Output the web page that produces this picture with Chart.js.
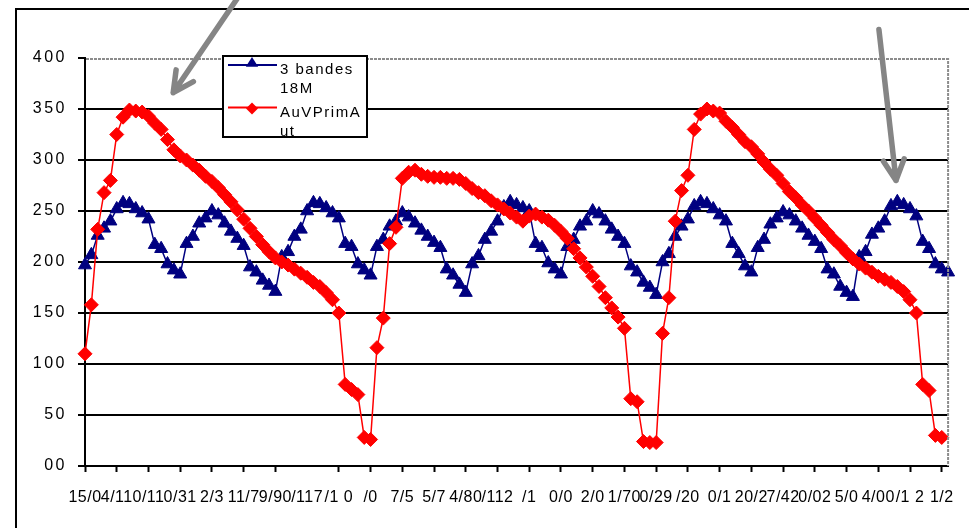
<!DOCTYPE html>
<html>
<head>
<meta charset="utf-8">
<script src="https://cdn.jsdelivr.net/npm/chart.js@4.4.1/dist/chart.umd.min.js"></script>
<style>
html,body{margin:0;padding:0;background:#fff;}
canvas{display:block;}
</style>
</head>
<body>
<canvas id="c" width="969" height="528"></canvas>
<script>
// ---- tick labels (as they appear, overlapping date labels) ----
const xTickLabels = ["15/0","4/11","0/11","0/31","2/3","11/7","9/90","/117","/1 0","/0","7/5","5/7","4/80","/112","/1","0/0","2/0","1/70","0/29","/20","0/1","20/2","7/42","0/02","5/0","4/00","/1 2","1/2"];
const yTickLabels = ["00","50","100","150","200","250","300","350","400"];

// ---- series names ----
const seriesNames = ["3 bandes\n18M", "AuVPrimA\nut"];

// ---- series values (one value per category) ----
const bandes18M = [
197,207,226,233,240,252,258,257,252,248,
242,217,213,198,192,188,218,225,238,243,
250,246,238,230,223,216,195,190,182,177,
171,205,210,225,232,250,258,257,253,248,
243,218,215,198,192,187,215,222,235,240,
248,244,238,231,225,219,214,193,187,178,
170,198,206,222,230,240,254,259,256,253,
250,218,214,199,193,188,215,222,235,240,
250,247,240,232,225,218,196,190,180,175,
168,200,208,225,235,242,255,259,257,252,
246,240,218,208,196,190,214,222,237,243,
249,246,240,233,226,220,213,193,188,176,
170,166,205,210,227,233,240,255,259,256,
252,245,220,213,198,193,190
];
const autPrinAut = [
110,158,232,268,280,325,342,349,348,347,
343,336,330,320,310,304,300,295,290,284,
279,273,266,259,251,242,233,225,217,210,
204,200,197,193,189,185,180,176,170,163,
150,80,75,70,28,26,116,145,218,234,
282,288,290,286,284,283,283,282,282,281,
277,272,268,265,260,256,252,248,244,240,
245,247,244,241,236,230,223,213,204,195,
186,176,165,155,146,135,66,63,24,23,
23,130,165,240,270,285,330,345,350,348,
346,338,332,325,318,313,306,298,291,285,
277,269,263,256,250,243,236,229,222,216,
209,203,198,194,190,186,183,180,176,171,
163,150,80,74,30,28
];

// ---- annotation arrows, in data units [category index, value] ----
const arrowTails = [[24.5, 463], [125.1, 428]];
const arrowTips  = [[13.9, 366], [127.8, 280]];

const FONT = '"Liberation Sans", Arial, sans-serif';

const spacingPlugin = {
  id: 'spacing',
  afterUpdate(chart) {
    const sp = {x: '0.5px', y: '2.5px'};
    for (const id of ['x', 'y']) {
      const s = chart.scales[id];
      if (s && !s.__wrapped) {
        const orig = s.drawLabels;
        s.drawLabels = function (area) {
          const ctx = this.ctx;
          ctx.save();
          ctx.letterSpacing = sp[id];
          orig.call(this, area);
          ctx.restore();
        };
        s.__wrapped = true;
      }
    }
  }
};

const framePlugin = {
  id: 'frame',
  beforeDraw(chart) {
    const ctx = chart.ctx;
    ctx.save();
    ctx.fillStyle = '#fff';
    ctx.fillRect(0, 0, chart.width, chart.height);
    ctx.fillStyle = '#000';
    ctx.fillRect(15, 8, chart.width, 2);
    ctx.fillRect(15, 8, 2, chart.height);
    ctx.restore();
  },
  afterDraw(chart) {
    const ctx = chart.ctx;
    const a = chart.chartArea;
    ctx.save();
    // plot area border (grey dotted) top and right
    ctx.strokeStyle = '#8c8c8c';
    ctx.lineWidth = 2;
    ctx.setLineDash([3, 1]);
    ctx.beginPath();
    ctx.moveTo(a.left + 1, a.top + 1);
    ctx.lineTo(a.right, a.top + 1);
    ctx.lineTo(a.right, a.bottom);
    ctx.stroke();
    ctx.setLineDash([]);

    // legend
    const lg = {x: 223, y: 56, w: 144, h: 81};
    ctx.fillStyle = '#fff';
    ctx.fillRect(lg.x, lg.y, lg.w, lg.h);
    ctx.strokeStyle = '#000';
    ctx.lineWidth = 2;
    ctx.strokeRect(lg.x, lg.y, lg.w, lg.h);
    const rows = [
      {ds: chart.data.datasets[1], lineY: 65, markY: 63.5, rad: 6.5, textY: [73.5, 93]},
      {ds: chart.data.datasets[0], lineY: 107.5, markY: 108.5, rad: 6, textY: [116.5, 135.5]}
    ];
    for (const r of rows) {
      const col = r.ds.borderColor;
      ctx.strokeStyle = col;
      ctx.lineWidth = 2;
      ctx.beginPath();
      ctx.moveTo(228, r.lineY);
      ctx.lineTo(277, r.lineY);
      ctx.stroke();
      ctx.fillStyle = col;
      const cx = 252, cy = r.markY, rad = r.rad;
      ctx.beginPath();
      if (r.ds.pointStyle === 'triangle') {
        ctx.moveTo(cx, cy - rad);
        ctx.lineTo(cx + 0.95 * rad, cy + 0.5 * rad);
        ctx.lineTo(cx - 0.95 * rad, cy + 0.5 * rad);
      } else {
        ctx.moveTo(cx - rad, cy);
        ctx.lineTo(cx, cy - rad);
        ctx.lineTo(cx + rad, cy);
        ctx.lineTo(cx, cy + rad);
      }
      ctx.closePath();
      ctx.fill();
      ctx.fillStyle = '#000';
      ctx.font = '15px ' + FONT;
      ctx.letterSpacing = '1.5px';
      ctx.textBaseline = 'alphabetic';
      ctx.textAlign = 'left';
      const lines = r.ds.label.split('\n');
      lines.forEach((t, i) => ctx.fillText(t, 280, r.textY[i]));
      ctx.letterSpacing = '0px';
    }

    // grey arrows
    const xs = chart.scales.x, ys = chart.scales.y;
    ctx.strokeStyle = '#858585';
    ctx.lineWidth = 5.5;
    ctx.lineCap = 'round';
    ctx.lineJoin = 'round';
    for (let i = 0; i < arrowTails.length; i++) {
      const x1 = xs.getPixelForValue(arrowTails[i][0]), y1 = ys.getPixelForValue(arrowTails[i][1]);
      const x2 = xs.getPixelForValue(arrowTips[i][0]), y2 = ys.getPixelForValue(arrowTips[i][1]);
      ctx.beginPath();
      ctx.moveTo(x1, y1);
      ctx.lineTo(x2, y2);
      const back = Math.atan2(y1 - y2, x1 - x2);
      for (const s of [-1, 1]) {
        const ang = back + s * 27 * Math.PI / 180;
        ctx.moveTo(x2, y2);
        ctx.lineTo(x2 + 23 * Math.cos(ang), y2 + 23 * Math.sin(ang));
      }
      ctx.stroke();
    }
    ctx.restore();
  }
};

new Chart(document.getElementById('c'), {
  type: 'line',
  data: {
    datasets: [
      {
        label: seriesNames[1],
        data: autPrinAut.map((v, i) => ({x: i, y: v})),
        borderColor: '#FF0000',
        backgroundColor: '#FF0000',
        pointBackgroundColor: '#FF0000',
        pointBorderColor: '#FF0000',
        pointStyle: 'rectRot',
        pointRadius: 7,
        pointBorderWidth: 1,
        borderWidth: 1.5,
        tension: 0,
        order: 0,
        clip: false
      },
      {
        label: seriesNames[0],
        data: bandes18M.map((v, i) => ({x: i, y: v})),
        borderColor: '#000080',
        backgroundColor: '#000080',
        pointBackgroundColor: '#000080',
        pointBorderColor: '#000080',
        pointStyle: 'triangle',
        pointRadius: 7.5,
        pointBorderWidth: 1,
        borderWidth: 1.5,
        tension: 0,
        order: 1,
        clip: false
      }
    ]
  },
  options: {
    responsive: false,
    animation: false,
    devicePixelRatio: 1,
    layout: {padding: {left: 0, top: 58, right: 18, bottom: 0}},
    plugins: {legend: {display: false}, tooltip: {enabled: false}},
    scales: {
      x: {
        type: 'linear',
        min: 0,
        max: 136,
        afterFit: s => { s.height = 62; },
        ticks: {
          stepSize: 5,
          includeBounds: false,
          autoSkip: false,
          maxRotation: 0,
          minRotation: 0,
          padding: 16,
          color: '#000',
          font: {family: FONT, size: 16},
          callback: v => (Number.isInteger(v / 5) && xTickLabels[v / 5] !== undefined) ? xTickLabels[v / 5] : ''
        },
        grid: {
          drawOnChartArea: false,
          drawTicks: true,
          tickLength: 6,
          tickWidth: 2,
          tickColor: c => (c.tick && c.tick.value === 35) ? 'rgba(0,0,0,0)' : '#000'
        },
        border: {display: true, color: '#000', width: 2}
      },
      y: {
        min: 0,
        max: 400,
        afterFit: s => { s.width = 85; },
        ticks: {
          stepSize: 50,
          padding: 11,
          color: '#000',
          font: {family: FONT, size: 16},
          callback: v => yTickLabels[Math.round(v / 50)]
        },
        grid: {
          color: c => (c.tick && c.tick.value === 400) ? 'rgba(0,0,0,0)' : '#000',
          lineWidth: 2,
          tickLength: 7,
          tickWidth: 2,
          tickColor: '#000'
        },
        border: {display: true, color: '#000', width: 2}
      }
    }
  },
  plugins: [spacingPlugin, framePlugin]
});
</script>
</body>
</html>
